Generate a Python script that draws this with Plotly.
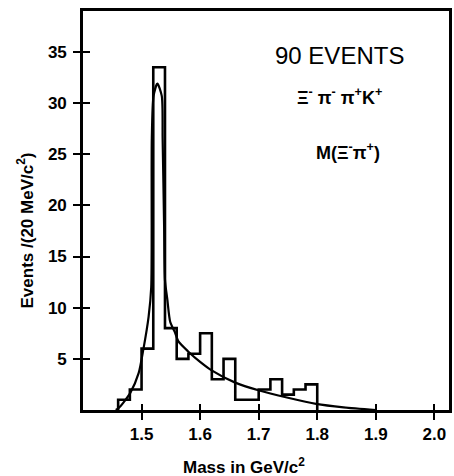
import plotly.graph_objects as go

# Histogram: 20 MeV bins of M(Xi- pi+)
bin_lo = [1.46, 1.48, 1.50, 1.52, 1.54, 1.56, 1.58, 1.60, 1.62,
          1.64, 1.66, 1.68, 1.70, 1.72, 1.74, 1.76, 1.78]
bin_width = 0.02
counts = [1, 2, 6, 33.5, 8, 5, 5.5, 7.5, 3,
          5, 1, 1, 2, 3, 1.5, 2, 2.5]

# Fitted curve (resonance + background), sampled along the mass axis
fit_mass = [1.456, 1.461, 1.470, 1.481, 1.495, 1.503, 1.512, 1.5165, 1.5175,
            1.5205, 1.527, 1.5345, 1.536, 1.5385, 1.540, 1.544, 1.549,
            1.557, 1.563, 1.580, 1.600, 1.619, 1.659, 1.701, 1.750,
            1.798, 1.845, 1.900]
fit_events = [0.0, 0.2, 0.8, 1.7, 3.6, 5.9, 9.1, 12.0, 26.5,
              30.7, 31.9, 30.7, 26.5, 18.0, 12.7, 10.8, 8.6,
              7.6, 6.7, 5.7, 4.7, 3.9, 2.7, 1.9, 1.2,
              0.6, 0.26, 0.0]

x_ticks = [1.5, 1.6, 1.7, 1.8, 1.9, 2.0]
x_ticktext = ["1.5", "1.6", "1.7", "1.8", "1.9", "2.0"]
y_ticks = [5, 10, 15, 20, 25, 30, 35]

X_RANGE = [1.4, 2.025]
Y_RANGE = [0, 39]

W, H = 454, 476
M_L, M_R, M_T, M_B = 83, 2, 11, 66
PLOT_W = W - M_L - M_R
PLOT_H = H - M_T - M_B

# step outline: rise at the first edge, drop back to zero at the last edge
step_x = [bin_lo[0]] + bin_lo + [bin_lo[-1] + bin_width]
step_y = [0] + counts + [0]

INK = "black"
FONT = "Liberation Sans"

fig = go.Figure()
fig.add_trace(go.Scatter(
    x=step_x, y=step_y, mode="lines", line_shape="hv",
    line=dict(color=INK, width=2.6), hoverinfo="skip",
    xaxis="x", yaxis="y",
))
fig.add_trace(go.Scatter(
    x=fit_mass, y=fit_events, mode="lines", line_shape="spline",
    line=dict(color=INK, width=2.2, smoothing=0.7), hoverinfo="skip",
    xaxis="x2", yaxis="y2",
))

tickfont = dict(family=FONT, size=17, color=INK, weight="bold")
common = dict(showgrid=False, zeroline=False, tickcolor=INK, tickwidth=2.2)

fig.update_layout(
    width=W, height=H,
    margin=dict(l=M_L, r=M_R, t=M_T, b=M_B),
    paper_bgcolor="white", plot_bgcolor="white",
    showlegend=False,
    xaxis=dict(range=X_RANGE, tickvals=x_ticks, ticktext=x_ticktext,
               ticks="outside", ticklen=7, tickfont=tickfont,
               showline=True, linecolor=INK, linewidth=2.6, mirror=True,
               **common),
    yaxis=dict(range=Y_RANGE, tickvals=y_ticks, ticks="outside", ticklen=7,
               tickfont=tickfont, ticklabelstandoff=3,
               showline=True, linecolor=INK, linewidth=2.6, mirror=True,
               **common),
    # second pair of axes supplies the inward half of each crossing tick
    xaxis2=dict(range=X_RANGE, tickvals=x_ticks, ticks="inside", ticklen=6,
                showticklabels=False, overlaying="x", anchor="y2",
                showline=False, **common),
    yaxis2=dict(range=Y_RANGE, tickvals=y_ticks, ticks="inside", ticklen=7,
                showticklabels=False, overlaying="y", anchor="x2",
                showline=False, **common),
)


def paper_xy(px, py):
    """Pixel position on the page -> paper coordinates of the plot area."""
    return (px - M_L) / PLOT_W, (H - M_B - py) / PLOT_H


labels = [
    dict(text="90 EVENTS", x=342, y=55, size=24, weight="normal", angle=0),
    dict(text="Ξ<sup>-</sup> π<sup>-</sup> π<sup>+</sup>K<sup>+</sup>",
         x=342, y=96, size=18, weight="bold", angle=0),
    dict(text="M(Ξ<sup>-</sup>π<sup>+</sup>)", x=350, y=151, size=18,
         weight="bold", angle=0),
    dict(text="Mass in GeV/c<sup>2</sup>", x=245, y=466, size=17,
         weight="bold", angle=0),
    dict(text="Events /(20 MeV/c<sup>2</sup>)", x=25, y=230, size=17,
         weight="bold", angle=-90),
]
for a in labels:
    ax, ay = paper_xy(a["x"], a["y"])
    fig.add_annotation(
        text=a["text"], xref="paper", yref="paper", x=ax, y=ay,
        xanchor="center", yanchor="middle", showarrow=False,
        textangle=a["angle"],
        font=dict(family=FONT, size=a["size"], color=INK, weight=a["weight"]),
    )

fig.write_html("out.html")
